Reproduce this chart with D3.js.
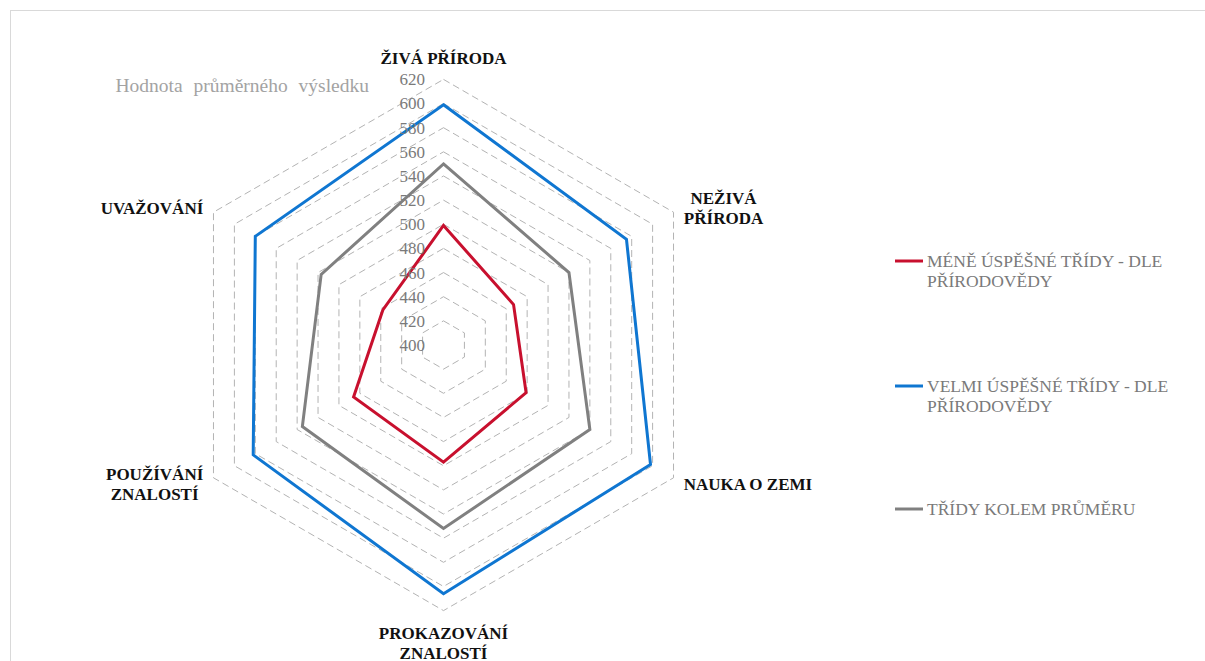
<!DOCTYPE html>
<html>
<head>
<meta charset="utf-8">
<script src="https://cdn.jsdelivr.net/npm/d3@7"></script>
<style>
  body { margin: 0; background: #fff; }
  svg { display: block; }
</style>
</head>
<body>
<svg class="radar"></svg>
<script>
// axes clockwise from top
var categories = [
  ["ŽIVÁ PŘÍRODA"],
  ["NEŽIVÁ", "PŘÍRODA"],
  ["NAUKA O ZEMI"],
  ["PROKAZOVÁNÍ", "ZNALOSTÍ"],
  ["POUŽÍVÁNÍ", "ZNALOSTÍ"],
  ["UVAŽOVÁNÍ"]
];
var seriesNames = [
  ["MÉNĚ ÚSPĚŠNÉ TŘÍDY - DLE", "PŘÍRODOVĚDY"],
  ["VELMI ÚSPĚŠNÉ TŘÍDY - DLE", "PŘÍRODOVĚDY"],
  ["TŘÍDY KOLEM PRŮMĚRU"]
];
var lessSuccessful = [499, 467, 479, 497, 486, 458];
var verySuccessful = [599, 575, 598, 606, 582, 580];
var aroundAverage  = [550, 520, 540, 552, 535, 517];
var tickValues = [400, 420, 440, 460, 480, 500, 520, 540, 560, 580, 600, 620];
var axisTitle = "Hodnota průměrného výsledku";

var series = [lessSuccessful, verySuccessful, aroundAverage];
var colors = ["#c8102e", "#0f76d1", "#808080"];

var svgWidth = 1205, svgHeight = 661;
var cx = 443.5, cy = 345;

var svg = d3.select(".radar")
  .attr("width", svgWidth)
  .attr("height", svgHeight);

// chart frame
svg.append("rect")
  .attr("x", 10.5).attr("y", 10.5)
  .attr("width", svgWidth).attr("height", svgHeight)
  .attr("fill", "#fff")
  .attr("stroke", "#d9d9d9");

var rScale = d3.scaleLinear()
  .domain([400, 620])
  .range([0, 265.6]);

var angle = d3.scaleLinear()
  .domain([0, categories.length])
  .range([0, 2 * Math.PI]);

function point(i, v) {
  var a = angle(i), r = rScale(v);
  return [cx + r * Math.sin(a), cy - r * Math.cos(a)];
}

var g = svg.append("g");

// dashed hexagon grid
g.selectAll(".ring")
  .data(tickValues.slice(1))
  .enter()
  .append("path")
  .attr("class", "ring")
  .attr("d", function (v) {
    return d3.line()(categories.map(function (c, i) { return point(i, v); })) + "Z";
  })
  .attr("fill", "none")
  .attr("stroke", "#b3b3b3")
  .attr("stroke-width", 1)
  .attr("stroke-dasharray", "7,4");

// series
g.selectAll(".series")
  .data(series)
  .enter()
  .append("path")
  .attr("class", "series")
  .attr("d", function (d) {
    return d3.line()(d.map(function (v, i) { return point(i, v); })) + "Z";
  })
  .attr("fill", "none")
  .attr("stroke", function (d, i) { return colors[i]; })
  .attr("stroke-width", 3);

// value labels on the top axis
g.selectAll(".tick")
  .data(tickValues)
  .enter()
  .append("text")
  .attr("class", "tick")
  .attr("x", 425)
  .attr("y", function (v) { return cy - rScale(v); })
  .attr("dy", "0.35em")
  .attr("text-anchor", "end")
  .attr("font-family", "Liberation Serif, Times New Roman, serif")
  .attr("font-size", 17)
  .attr("fill", "#7a7a7a")
  .text(function (v) { return v; });

g.append("text")
  .attr("x", 369)
  .attr("y", 85)
  .attr("dy", "0.35em")
  .attr("text-anchor", "end")
  .attr("font-family", "Liberation Serif, Times New Roman, serif")
  .attr("font-size", 19.5)
  .attr("word-spacing", 6)
  .attr("fill", "#a3a3a3")
  .text(axisTitle);

// category labels
var labels = g.selectAll(".cat")
  .data(categories)
  .enter()
  .append("text")
  .attr("class", "cat")
  .attr("font-family", "Liberation Serif, Times New Roman, serif")
  .attr("font-weight", "bold")
  .attr("font-size", 17)
  .attr("fill", "#111")
  .attr("text-anchor", "middle");

labels.each(function (d, i) {
  var t = d3.select(this);
  d.forEach(function (line, k) {
    t.append("tspan").attr("x", 0).attr("dy", k === 0 ? "0.35em" : 20).text(line);
  });
  var bb = this.getBBox();
  var v = point(i, 620);
  var s = Math.sin(angle(i)), c = Math.cos(angle(i));
  var x, y;
  if (Math.abs(s) < 0.01) {
    x = v[0];
    y = c > 0 ? v[1] - 21 : v[1] + 22;
  } else {
    x = s > 0 ? v[0] + 10 + bb.width / 2 : v[0] - 10 - bb.width / 2;
    y = v[1] + (c > 0 ? -4 : 6) - (d.length - 1) * 10;
  }
  t.attr("transform", "translate(" + x + "," + y + ")");
});

// legend
var legend = svg.selectAll(".legend")
  .data(seriesNames)
  .enter()
  .append("g")
  .attr("class", "legend")
  .attr("transform", function (d, i) {
    return "translate(895," + [261, 386, 509][i] + ")";
  });

legend.append("line")
  .attr("x1", 0).attr("x2", 28)
  .attr("y1", 0).attr("y2", 0)
  .attr("stroke", function (d, i) { return colors[i]; })
  .attr("stroke-width", 3);

legend.append("text")
  .attr("x", 32)
  .attr("font-family", "Liberation Serif, Times New Roman, serif")
  .attr("font-size", 17.5)
  .attr("fill", "#7a7a7a")
  .selectAll("tspan")
  .data(function (d) { return d; })
  .enter()
  .append("tspan")
  .attr("x", 32)
  .attr("y", function (l, k) { return k * 20; })
  .attr("dy", "0.35em")
  .text(function (l) { return l; });
</script>
</body>
</html>
